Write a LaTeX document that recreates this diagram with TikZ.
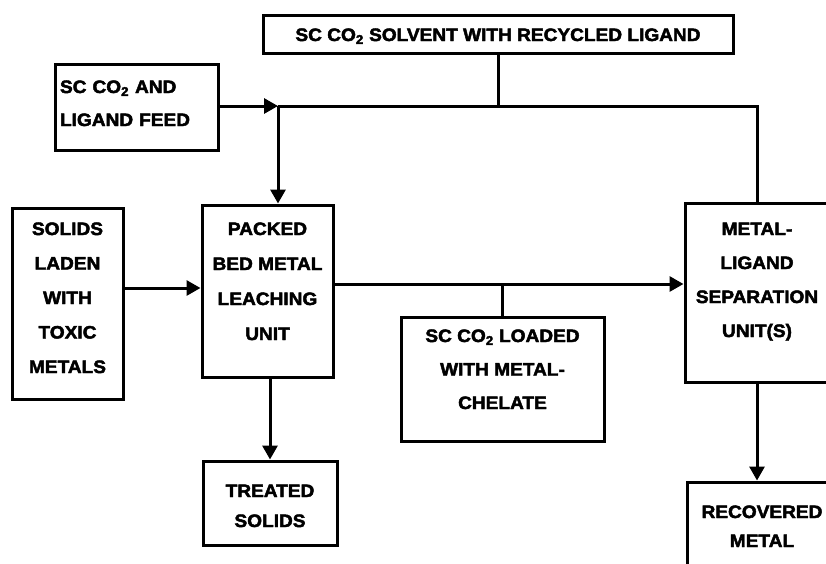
\documentclass[tikz,border=0pt]{standalone}
\usepackage{fontspec}
\setmainfont[FakeStretch=1.06, BoldFont={Liberation Sans Bold},
    BoldFeatures={FakeBold=2.5}]{Liberation Sans}
\usetikzlibrary{arrows.meta}
\newcommand{\scco}{SC CO\textsubscript{2}}

\begin{document}
\begin{tikzpicture}[x=1pt, y=-1pt,
    caja/.style={draw, line width=3pt, inner sep=0pt, align=center,
        font=\bfseries\fontsize{18}{34}\selectfont},
    salto/.style={font=\bfseries\fontsize{18}{#1}\selectfont},
    linea/.style={line width=3pt},
    flujo/.style={line width=3pt, -{Triangle[length=14pt,width=15pt]}}]

    \useasboundingbox (0,0) rectangle (826,563);
    \clip (0,0) rectangle (826,563);

    % Cajas
    \node[caja, minimum width=470pt, text height=26pt, text depth=12pt]
        (recyc) at (498,34) {\scco{} SOLVENT WITH RECYCLED LIGAND};
    \node[caja, salto=33, minimum width=163pt, text width=153pt, align=left,
        text height=29pt, text depth=57pt]
        (feed) at (136.5,107) {\scco{} AND\\LIGAND FEED};
    \node[caja, salto=34.5, minimum width=111pt, text height=165pt, text depth=26pt]
        (solids) at (67.5,303.5) {SOLIDS\\LADEN\\WITH\\TOXIC\\METALS};
    \node[caja, salto=35, minimum width=131pt, text height=135pt, text depth=37pt]
        (packed) at (267.5,291) {PACKED\\BED METAL\\LEACHING\\UNIT};
    \node[caja, salto=33.5, minimum width=203pt, text height=92pt, text depth=32pt]
        (chelate) at (502.5,379) {\scco{} LOADED\\WITH METAL-\\CHELATE};
    \node[caja, minimum width=144pt, text height=134pt, text depth=45pt]
        (sep) at (757,292.5) {METAL-\\LIGAND\\SEPARATION\\UNIT(S)};
    \node[caja, salto=30, minimum width=134pt, text height=66pt, text depth=18pt]
        (treated) at (270,503) {TREATED\\SOLIDS};
    \node[caja, salto=29, minimum width=150pt, text height=65pt, text depth=41pt]
        (recov) at (762,535) {RECOVERED\\METAL};

    % Puntos de union
    \coordinate (j1) at (278,106);
    \coordinate (s1) at ([yshift=15.5pt]solids.east);
    \coordinate (p1) at ([yshift=7pt]packed.east);

    % Flujos
    \draw[flujo] (j1 -| feed.east) -- (j1);
    \draw[linea] (j1) -- (j1 -| sep.north) -- (sep.north);
    \draw[linea] (recyc.south) -- (recyc.south |- j1);
    \draw[flujo] (j1) -- (j1 |- packed.north);
    \draw[flujo] (s1) -- (s1 -| packed.west);
    \draw[flujo] (p1) -- (p1 -| sep.west);
    \draw[linea] (chelate.north) -- (chelate.north |- p1);
    \draw[flujo] (packed.south -| treated.north) -- (treated.north);
    \draw[flujo] (sep.south) -- (sep.south |- recov.north);

\end{tikzpicture}
\end{document}
